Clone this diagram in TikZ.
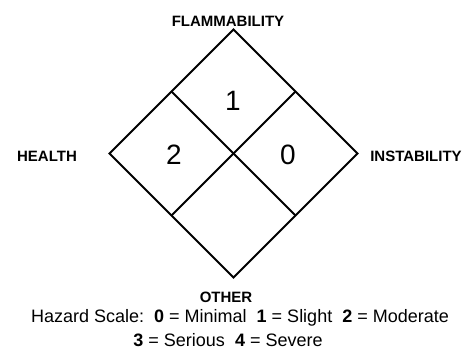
\documentclass[tikz,border=0pt]{standalone}
\usepackage{fontspec}
\setmainfont{Liberation Sans}
\usetikzlibrary{calc}
\begin{document}
\begin{tikzpicture}[x=1pt, y=-1pt, line width=1.8pt]
			\useasboundingbox (0,0) rectangle (476,350);
			% corners of the diamond
			\coordinate (top) at (233.5,29.5);
			\coordinate (left) at (109.5,153.5);
			\coordinate (right) at (357.5,153.5);
			\coordinate (bottom) at (233.5,277.5);
			\draw (top) -- (right) -- (bottom) -- (left) -- cycle;
			\draw ($(top)!0.5!(left)$) -- ($(right)!0.5!(bottom)$);
			\draw ($(top)!0.5!(right)$) -- ($(left)!0.5!(bottom)$);
			% ratings
			\node[font=\fontsize{28}{30}\selectfont] (flamval) at (233,101) {1};
			\node[font=\fontsize{28}{30}\selectfont] (healthval) at (174,155) {2};
			\node[font=\fontsize{28}{30}\selectfont] (instval) at (288,155) {0};
			% category labels
			\node[font=\bfseries\fontsize{15}{17}\selectfont] (flamlab) at (228,21) {FLAMMABILITY};
			\node[font=\bfseries\fontsize{15}{17}\selectfont] (healthlab) at (47,156) {HEALTH};
			\node[font=\bfseries\fontsize{15}{17}\selectfont] (instlab) at (416,156) {INSTABILITY};
			\node[font=\bfseries\fontsize{15}{17}\selectfont] (otherlab) at (226,297.5) {OTHER};
			% scale legend
			\node[font=\fontsize{18}{20}\selectfont, anchor=base, inner sep=0pt] (scaleA) at (240,322.5) {Hazard Scale:\ \ \textbf{0} = Minimal\ \ \textbf{1} = Slight\ \ \textbf{2} = Moderate};
			\node[font=\fontsize{18}{20}\selectfont, anchor=base, inner sep=0pt] (scaleB) at (228,346) {\textbf{3} = Serious\ \ \textbf{4} = Severe};
		\end{tikzpicture}
\end{document}
